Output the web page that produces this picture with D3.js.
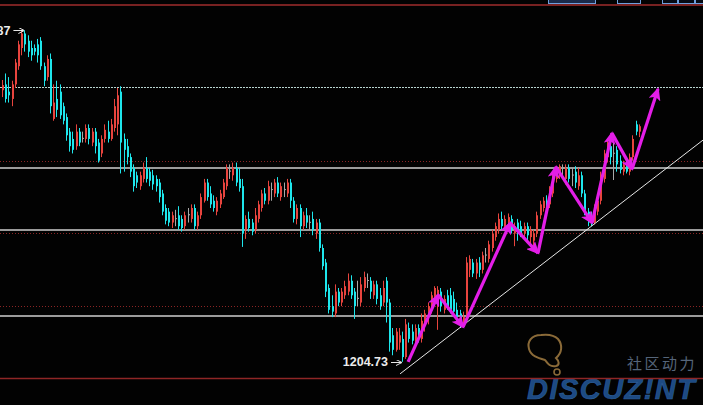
<!DOCTYPE html>
<html>
<head>
<meta charset="utf-8">
<script src="https://cdnjs.cloudflare.com/ajax/libs/d3/7.8.5/d3.min.js"></script>
<style>
  html, body { margin: 0; padding: 0; background: #000; }
  svg { display: block; }
</style>
</head>
<body>
<svg id="chart" width="703" height="405"></svg>
<script>
// OHLC, one candle per bar
const opens = [
  1279.4,1281,1279,1277,1281,1286,1291,1295,1293,1291,
  1291,1292,1293,1286,1283,1288,1271.5,1277,1279,1275,
  1272,1268,1266,1264,1268,1266,1266,1269,1265,1268,
  1265,1262,1266,1268,1266,1269,1270,1279,1266,1264,
  1261,1258,1256,1253,1255,1258,1257,1256,1255,1254,
  1251,1247,1246,1243,1244,1245,1244,1242,1245,1244,
  1247,1242,1245,1249,1254,1251,1249,1246,1248,1250,
  1253,1257,1256,1258,1255,1253,1241,1244,1243,1241,
  1244,1247,1251,1249,1252,1251,1254,1250,1252,1251,
  1254,1249,1244,1247,1242,1245,1243,1244,1240,1243,
  1236,1232,1225,1220,1218,1224,1221,1223,1224,1227,
  1224,1222,1221,1225,1227,1227,1223,1226,1223,1221,
  1227,1221,1212,1208,1210,1211,1206,1214,1213,1210,
  1214,1211,1215,1217,1219,1222,1222,1224,1219,1223,
  1223,1222,1219,1218,1215,1217,1230,1232,1229,1232,
  1230,1234,1233,1236,1239,1241,1244,1242,1243,1244,
  1240,1243,1242,1240,1242,1239,1238,1240,1245,1247,
  1249,1248,1251,1255,1257,1258,1255,1258,1256,1257,
  1253,1256,1251,1246,1244,1243,1246,1249,1255,1261,
  1264,1262,1263,1260,1257,1259,1257,1261,1270,1268
];
const highs = [
  1282.2,1284,1283,1282,1288,1293,1296,1295.9,1294.5,1293,
  1292,1293.5,1294,1287,1289,1289.5,1281,1282,1281,1276,
  1273,1269,1268,1270,1269,1268,1270,1270,1269,1269,
  1266,1267,1270,1271,1271.5,1277,1280,1280.5,1267.5,1266,
  1262,1259,1257,1257,1259.5,1261,1258,1257.5,1256,1255,
  1252,1248,1247,1246,1246.5,1247.5,1245,1246,1247,1248,
  1248,1246,1251,1255,1255,1253,1250.5,1250,1252,1255,
  1259,1259,1259.5,1259.5,1258,1255,1245,1246,1244,1247,
  1249,1252,1252.5,1254.5,1254,1255,1255.5,1254,1254,1255,
  1255,1250,1248,1248,1246,1247,1245,1246,1244,1244,
  1237,1233,1226,1223,1226,1225,1225,1227,1229,1228.5,
  1225,1227,1228,1229.5,1229,1228,1227,1227,1225,1227,
  1228,1222,1214,1214,1214,1213,1216.5,1215.5,1215,1215,
  1215,1218,1219,1221,1224,1225.5,1225.5,1225,1223,1224.5,
  1225,1224,1221,1219,1218.5,1233.5,1234,1233,1233,1233.5,
  1235,1236,1238,1241,1243,1245.5,1246,1245,1245.5,1245,
  1243,1244,1243.5,1243,1243,1242,1241,1246,1249,1250,
  1250.5,1253,1257,1258.5,1259,1259,1259,1259,1258,1258.5,
  1258,1257,1252,1247,1246,1248,1250,1257,1263,1266,
  1265,1265,1264,1261.5,1260,1260.5,1262,1267,1271,1270
];
const lows = [
  1277.5,1276,1276,1275,1280,1285,1289,1290,1288.5,1287.5,
  1289,1287,1285,1280.5,1282,1273,1271,1272,1271.5,1270,
  1265.5,1262.5,1262,1263,1264,1265,1265,1264.5,1264,1262,
  1259.5,1261,1265,1265,1265.5,1268,1267,1256.5,1257,1259,
  1255.5,1251.5,1252.5,1252,1254,1254,1253,1252,1251.5,1248.5,
  1245,1242.5,1242,1241.5,1242,1241,1240.5,1241,1243,1243,
  1241,1241,1244,1248.5,1249,1247,1246,1245,1247,1249.5,
  1252,1255,1254.5,1253,1251.5,1236.3,1238.5,1240.5,1239.5,1240,
  1243,1246,1248,1248,1249,1250,1250,1249,1250,1250,
  1247,1243,1242.5,1239,1241,1241.5,1241,1239.5,1238.5,1235,
  1230,1222.5,1218,1217,1217,1220,1220,1222,1223,1222,
  1216.5,1220,1220,1224,1225,1222,1222,1220.5,1219,1220,
  1215.5,1207.5,1206.5,1207.5,1208,1204.7,1205.5,1210,1209.5,1209,
  1210,1210,1213,1215,1218,1220,1213.5,1218.5,1218,1219,
  1218,1217.5,1216,1214,1214,1216,1228,1228,1227.5,1228,
  1229,1232,1232,1235,1238,1240,1241,1241,1242,1240,
  1236.5,1238,1239,1239,1238,1237,1236.5,1239,1244,1246,
  1246.5,1247,1250,1254,1255,1255,1253.5,1254,1253,1252.5,
  1252,1250,1245,1242,1242,1242.5,1245,1248,1254,1259.5,
  1259,1254.7,1257,1256.5,1256,1256.5,1256,1260,1267,1266.5
];
const closes = [
  1280.8,1277,1278,1281,1287,1292,1295,1292,1290,1289,
  1290,1289,1286,1282,1288,1275,1276,1274,1272.5,1271,
  1267,1264,1263,1268,1265,1266.3,1269,1266,1268,1264,
  1260,1266,1268.5,1266,1270,1275,1278,1265,1263,1261,
  1257,1253,1254,1256,1258,1255,1254.5,1253.5,1253,1250,
  1246,1243.5,1243,1245,1244.2,1242,1241.5,1245,1245.3,1247,
  1242,1245,1250,1254,1250,1248,1247,1249,1251,1254,
  1258,1257.3,1258,1254,1252.5,1240,1244,1241.5,1240.5,1245,
  1248,1251,1249,1253,1252.2,1254,1251,1253,1252.2,1254,
  1249,1244,1247,1242,1245,1243,1243.2,1241,1243,1236,
  1231,1224,1219,1218.5,1224,1221,1224,1225.5,1227,1223,
  1220,1222.3,1226,1228,1227.2,1224,1226,1222,1220,1225,
  1221,1210,1208,1213,1212,1206,1215,1211,1210.5,1214,
  1211,1216,1218,1220,1223,1225,1224.5,1220,1222,1220,
  1219,1218.5,1217,1215,1217,1232,1233,1229,1232,1230,
  1234,1234.2,1237,1240,1242,1244,1242,1244,1244.5,1241,
  1242,1240,1240,1242,1239.5,1241,1240,1245,1248,1249,
  1247.5,1252,1256,1257.5,1258.5,1258.2,1258,1255,1256.2,1254,
  1256,1251,1246,1243,1242.5,1247,1249,1256,1262,1265,
  1261,1262.2,1259,1257.5,1259,1257,1261,1266,1268,1269.5
];

// horizontal levels
const solidLevels = [1258.0, 1240.95, 1217.3];
const dottedLevel = 1280.3;
const gridLevels = [1260, 1240, 1220];

// hand drawn zigzag arrows: [bar index, price]
const arrowPoints = [
  [126.9, 1204.7], [136.3, 1223.1], [144.1, 1214.3], [158.8, 1242.9],
  [167.5, 1234.6], [173.1, 1258.3], [184.4, 1242.9], [190.6, 1267.6],
  [196.9, 1257.7], [205.0, 1279.7]
];
// support line
const trendLine = [[124.4, 1201.4], [219.1, 1265.7]];

const highLabel = { text: "1295.87", index: 7, price: 1295.9 };
const lowLabel = { text: "1204.73", index: 125, price: 1204.7 };

const W = 703, H = 405;
const svg = d3.select("#chart");
svg.append("rect").attr("width", W).attr("height", H).attr("fill", "#020202");

const x = d3.scaleLinear().domain([0, opens.length - 1]).range([2, 638.8]);
const y = d3.scaleLinear().domain([1200.25, 1302.83]).range([378, 5]);

const defs = svg.append("defs");
defs.append("marker")
  .attr("id", "mag")
  .attr("markerUnits", "userSpaceOnUse")
  .attr("markerWidth", 14).attr("markerHeight", 12)
  .attr("refX", 11).attr("refY", 6)
  .attr("orient", "auto")
  .append("path").attr("d", "M0,0 L13,6 L0,12 L3,6 Z").attr("fill", "#e41ee8");
defs.append("marker")
  .attr("id", "wht")
  .attr("markerUnits", "userSpaceOnUse")
  .attr("markerWidth", 6).attr("markerHeight", 6)
  .attr("refX", 5).attr("refY", 3)
  .attr("orient", "auto")
  .append("path").attr("d", "M0,0 L6,3 L0,6").attr("fill", "none")
  .attr("stroke", "#e8e8e8").attr("stroke-width", 1);

// grid (red dotted)
svg.append("g").selectAll("line").data(gridLevels).join("line")
  .attr("x1", 0).attr("x2", W)
  .attr("y1", d => Math.round(y(d)) + 0.5).attr("y2", d => Math.round(y(d)) + 0.5)
  .attr("stroke", "#8a2424").attr("stroke-dasharray", "1,2");

// level lines
svg.append("line")
  .attr("x1", 0).attr("x2", W)
  .attr("y1", Math.round(y(dottedLevel)) + 0.5).attr("y2", Math.round(y(dottedLevel)) + 0.5)
  .attr("stroke", "#b8d4d0").attr("stroke-width", 1.2).attr("stroke-dasharray", "2,1");
svg.append("g").selectAll("line").data(solidLevels).join("line")
  .attr("x1", 0).attr("x2", W)
  .attr("y1", d => y(d)).attr("y2", d => y(d))
  .attr("stroke", "#cfcfcf").attr("stroke-width", 1.5);

// watermark
const wm = svg.append("g");
wm.append("path")
  .attr("d", "M541,335 C531,335 527,342 529,349 C531,356 538,358 545,360 C548,364 550,367 556,366 C560,365 559,361 556,358 C562,353 563,345 558,339 C554,335 548,334 541,335 Z")
  .attr("fill", "none").attr("stroke", "#8a6a38").attr("stroke-width", 2);
wm.append("circle").attr("cx", 557).attr("cy", 372).attr("r", 3)
  .attr("fill", "none").attr("stroke", "#8a6a38").attr("stroke-width", 1.6);
wm.append("text").attr("x", 627).attr("y", 369)
  .attr("font-family", "'Noto Sans CJK SC', sans-serif").attr("font-size", 15)
  .attr("letter-spacing", 2.5).attr("fill", "#55657a").text("社区动力");
wm.append("text").attr("x", 527).attr("y", 399)
  .attr("font-family", "'Liberation Sans', Arial, sans-serif").attr("font-size", 29)
  .attr("font-weight", "bold").attr("font-style", "italic")
  .attr("textLength", 168).attr("lengthAdjust", "spacing")
  .attr("fill", "#1d4a82").attr("stroke", "#2c5f9a").attr("stroke-width", 0.6)
  .text("DISCUZ!NT");

// candles
const idx = d3.range(opens.length);
const col = i => Math.abs(closes[i] - opens[i]) < 0.5 ? "#a8a8a8"
  : closes[i] > opens[i] ? "#e8443e" : "#1ee6ec";
const cg = svg.append("g");
cg.selectAll("line").data(idx).join("line")
  .attr("x1", i => Math.round(x(i)) + 0.5).attr("x2", i => Math.round(x(i)) + 0.5)
  .attr("y1", i => y(highs[i])).attr("y2", i => y(lows[i]))
  .attr("stroke", col).attr("stroke-width", 1);
cg.selectAll("rect").data(idx).join("rect")
  .attr("x", i => Math.round(x(i)))
  .attr("width", 2)
  .attr("y", i => y(Math.max(opens[i], closes[i])))
  .attr("height", i => Math.max(1, Math.abs(y(opens[i]) - y(closes[i]))))
  .attr("fill", col);

// trend line
svg.append("line")
  .attr("x1", x(trendLine[0][0])).attr("y1", y(trendLine[0][1]))
  .attr("x2", x(trendLine[1][0])).attr("y2", y(trendLine[1][1]))
  .attr("stroke", "#e6e6e6").attr("stroke-width", 1);

// zigzag arrows
const ag = svg.append("g");
d3.pairs(arrowPoints).forEach(([a, b]) => {
  ag.append("line")
    .attr("x1", x(a[0])).attr("y1", y(a[1]))
    .attr("x2", x(b[0])).attr("y2", y(b[1]))
    .attr("stroke", "#e41ee8").attr("stroke-width", 3.2)
    .attr("marker-end", "url(#mag)");
});

// price labels
function priceLabel(lb) {
  const px = x(lb.index), py = y(lb.price);
  svg.append("text").attr("x", px - 14).attr("y", py + 4.5)
    .attr("text-anchor", "end")
    .attr("font-family", "'Liberation Sans', Arial, sans-serif")
    .attr("font-size", 12.5).attr("font-weight", "bold")
    .attr("fill", "#ececec").text(lb.text);
  svg.append("line").attr("x1", px - 11).attr("x2", px - 1)
    .attr("y1", Math.round(py) + 0.5).attr("y2", Math.round(py) + 0.5)
    .attr("stroke", "#e8e8e8").attr("stroke-width", 1)
    .attr("marker-end", "url(#wht)");
}
priceLabel(highLabel);
priceLabel(lowLabel);

// frame lines
svg.append("line").attr("x1", 0).attr("x2", W).attr("y1", 5).attr("y2", 5)
  .attr("stroke", "#a02c2c").attr("stroke-width", 1.5);
svg.append("line").attr("x1", 0).attr("x2", W).attr("y1", 378.5).attr("y2", 378.5)
  .attr("stroke", "#8e2626").attr("stroke-width", 1.5);

// tabs cut at the top edge
const tabs = [[548, 47], [617, 23], [662, 15], [678, 16], [695, 10]];
svg.append("g").selectAll("rect").data(tabs).join("rect")
  .attr("x", d => d[0] + 0.5).attr("y", -3.5)
  .attr("width", d => d[1]).attr("height", 7)
  .attr("fill", (d, i) => i === 0 ? "#1a2a4a" : "#050a14")
  .attr("stroke", "#6f9fdc").attr("stroke-width", 1);
</script>
</body>
</html>
